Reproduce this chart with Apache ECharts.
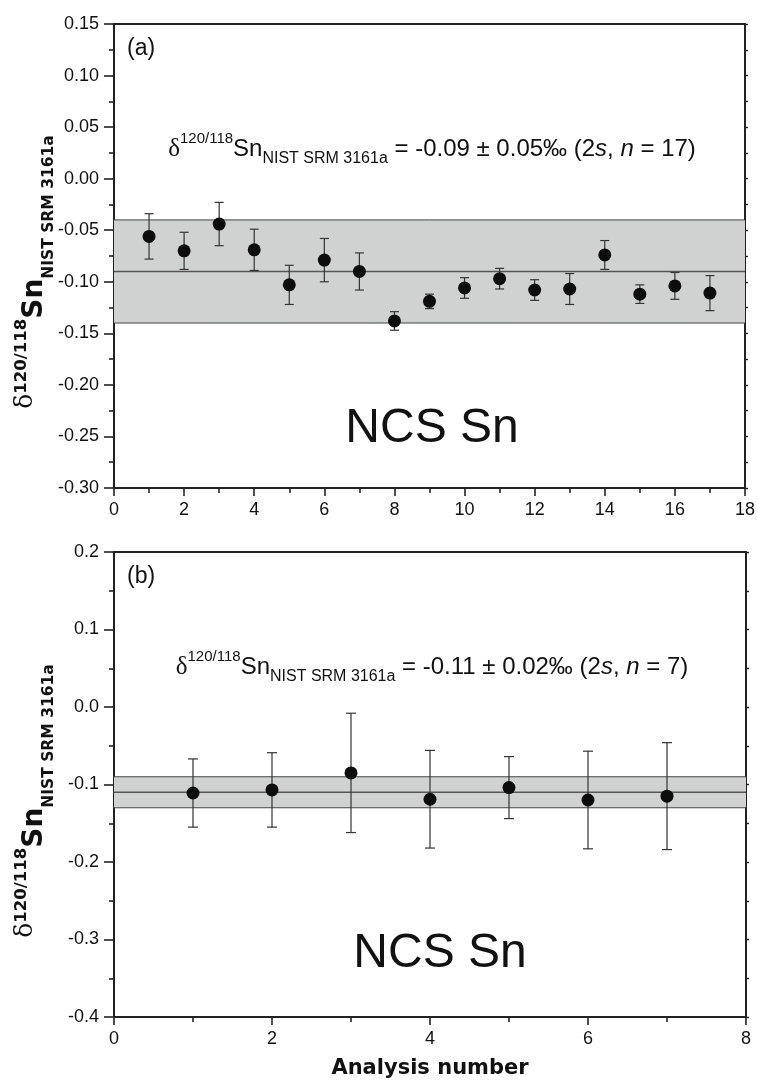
<!DOCTYPE html>
<html><head><meta charset="utf-8">
<script src="https://cdn.jsdelivr.net/npm/echarts@6/dist/echarts.min.js"></script>
<style>html,body{margin:0;padding:0;background:#fff}#c{width:758px;height:1084px}</style>
</head><body><div id="c"></div>
<script>
// ---- Panel (a) data ----
const runsA = [1,2,3,4,5,6,7,8,9,10,11,12,13,14,15,16,17];
const deltaA = [-0.056,-0.070,-0.044,-0.069,-0.103,-0.079,-0.090,-0.138,-0.119,-0.106,-0.097,-0.108,-0.107,-0.074,-0.112,-0.104,-0.111];
const err2sA = [0.022,0.018,0.021,0.020,0.019,0.021,0.018,0.009,0.007,0.010,0.010,0.010,0.015,0.014,0.009,0.013,0.017];
const meanA = [-0.09];
const bandHalfA = [0.05];
const yRangeA = [-0.30, 0.15];
const xRangeA = [0, 18];
// ---- Panel (b) data ----
const runsB = [1,2,3,4,5,6,7];
const deltaB = [-0.111,-0.107,-0.085,-0.119,-0.104,-0.120,-0.115];
const err2sB = [0.044,0.048,0.077,0.063,0.040,0.063,0.069];
const meanB = [-0.11];
const bandHalfB = [0.02];
const yRangeB = [-0.4, 0.2];
const xRangeB = [0, 8];

const FONT = 'Liberation Sans';
const BOLD = 'DejaVu Sans';
const ink = '#111';

const lineStyleAx = {color:'#222', width:2};
function xBottom(grid, range){
  return {gridIndex:grid, type:'value', min:range[0], max:range[1], interval:2, position:'bottom',
    axisLine:{show:true, onZero:false, lineStyle:lineStyleAx},
    axisTick:{show:true, length:8, lineStyle:{color:'#222', width:1.6}},
    minorTick:{show:true, splitNumber:2, length:5, lineStyle:{color:'#222', width:1.6}},
    axisLabel:{margin:13, fontSize:18, color:ink, fontFamily:FONT, showMinLabel:true, showMaxLabel:true},
    splitLine:{show:false}, minorSplitLine:{show:false}};
}
function xTop(grid, range){
  return {gridIndex:grid, type:'value', min:range[0], max:range[1], position:'top',
    axisLine:{show:true, onZero:false, lineStyle:lineStyleAx},
    axisTick:{show:false}, axisLabel:{show:false}, splitLine:{show:false}};
}
function yLeft(grid, range, step, digits){
  return {gridIndex:grid, type:'value', min:range[0], max:range[1], interval:step, position:'left',
    axisLine:{show:true, onZero:false, lineStyle:lineStyleAx},
    axisTick:{show:true, length:10, lineStyle:{color:'#222', width:1.6}},
    minorTick:{show:true, splitNumber:2, length:5, lineStyle:{color:'#222', width:1.6}},
    axisLabel:{margin:15, fontSize:18, color:ink, fontFamily:FONT, showMinLabel:true, showMaxLabel:true,
      formatter:v=>v.toFixed(digits)},
    splitLine:{show:false}, minorSplitLine:{show:false}};
}
function yRight(grid, range, step){
  return {gridIndex:grid, type:'value', min:range[0], max:range[1], interval:step, position:'right',
    axisLine:{show:true, onZero:false, lineStyle:lineStyleAx},
    axisTick:{show:true, length:3, lineStyle:{color:'#222', width:1.4}},
    axisLabel:{show:false}, splitLine:{show:false}};
}
function bandSeries(xi, yi, mean, half){
  return {type:'custom', xAxisIndex:xi, yAxisIndex:yi, z:1, silent:true,
    data: mean.map((m,i)=>[0, m-half[i], m, m+half[i]]),
    encode:{x:0, y:[1,2,3]},
    renderItem(params, api){
      const cs = params.coordSys;
      const yLo = api.coord([0, api.value(1)])[1];
      const yMid = api.coord([0, api.value(2)])[1];
      const yHi = api.coord([0, api.value(3)])[1];
      const x1 = cs.x, x2 = cs.x + cs.width;
      return {type:'group', children:[
        {type:'rect', shape:{x:x1, y:yHi, width:cs.width, height:yLo-yHi}, style:{fill:'#d0d2d1'}},
        {type:'line', shape:{x1:x1,y1:yHi,x2:x2,y2:yHi}, style:{stroke:'#444', lineWidth:1}},
        {type:'line', shape:{x1:x1,y1:yLo,x2:x2,y2:yLo}, style:{stroke:'#444', lineWidth:1}},
        {type:'line', shape:{x1:x1,y1:yMid,x2:x2,y2:yMid}, style:{stroke:'#555', lineWidth:1.4}}
      ]};
    }};
}
function errSeries(xi, yi, runs, vals, errs, cap){
  return {type:'custom', xAxisIndex:xi, yAxisIndex:yi, z:3, silent:true,
    data: runs.map((r,i)=>[r, vals[i]-errs[i], vals[i]+errs[i]]),
    encode:{x:0, y:[1,2]},
    renderItem(params, api){
      const x = api.value(0);
      const lo = api.coord([x, api.value(1)]);
      const hi = api.coord([x, api.value(2)]);
      const h = cap/2;
      const st = {stroke:'#333', lineWidth:1.2};
      return {type:'group', children:[
        {type:'line', shape:{x1:lo[0],y1:lo[1],x2:hi[0],y2:hi[1]}, style:st},
        {type:'line', shape:{x1:lo[0]-h,y1:lo[1],x2:lo[0]+h,y2:lo[1]}, style:st},
        {type:'line', shape:{x1:hi[0]-h,y1:hi[1],x2:hi[0]+h,y2:hi[1]}, style:st}
      ]};
    }};
}
function ptSeries(xi, yi, runs, vals){
  return {type:'scatter', xAxisIndex:xi, yAxisIndex:yi, z:4, symbol:'circle', symbolSize:13,
    itemStyle:{color:'#0d0d0d', opacity:1}, data: runs.map((r,i)=>[r, vals[i]])};
}

const formulaRich = {
  d:{fontFamily:'Liberation Serif', fontSize:25, lineHeight:36, fill:ink},
  sup:{fontFamily:FONT, fontSize:15, lineHeight:26, verticalAlign:'top', fill:ink},
  m:{fontFamily:FONT, fontSize:24, lineHeight:36, fill:ink},
  sub:{fontFamily:FONT, fontSize:16, lineHeight:13, verticalAlign:'bottom', fill:ink},
  i:{fontFamily:FONT, fontSize:24, fontStyle:'italic', lineHeight:36, fill:ink}
};
function formula(cx, top, mean, sd, n){
  return {type:'text', x:cx, y:top, z:10, silent:true, style:{
    text:'{d|δ}{sup|120/118}{m|Sn}{sub|NIST SRM 3161a}{m| = '+mean+' ± '+sd+'‰ (2}{i|s}{m|, }{i|n}{m| = '+n+')}',
    rich:formulaRich, textAlign:'center', textVerticalAlign:'top'}};
}
const ylabRich = {
  d:{fontFamily:'DejaVu Serif', fontSize:25, lineHeight:15, verticalAlign:'top', fill:ink},
  sup:{fontFamily:BOLD, fontWeight:'bold', fontSize:16.5, lineHeight:12, verticalAlign:'top', fill:ink},
  m:{fontFamily:BOLD, fontWeight:'bold', fontSize:28, lineHeight:44, fill:ink},
  sub:{fontFamily:BOLD, fontWeight:'bold', fontSize:15.5, lineHeight:24, verticalAlign:'bottom', fill:ink}
};
function ylab(cx, cy){
  return {type:'text', x:cx, y:cy, rotation:Math.PI/2, z:10, silent:true, style:{
    text:'{d|δ}{sup|120/118}{m|Sn}{sub|NIST SRM 3161a}', rich:ylabRich,
    textAlign:'center', textVerticalAlign:'middle'}};
}
function plain(x, y, txt, size, align, extra){
  return {type:'text', x:x, y:y, z:10, silent:true, style:Object.assign({
    text:txt, fontFamily:FONT, fontSize:size, fill:ink, textAlign:align, textVerticalAlign:'middle'}, extra||{})};
}

const chart = echarts.init(document.getElementById('c'), null, {renderer:'canvas'});
chart.setOption({
  animation:false,
  backgroundColor:'#fff',
  grid:[
    {left:114, right:12, top:24, height:464},
    {left:114, right:12, top:552, height:465}
  ],
  xAxis:[xBottom(0, xRangeA), xTop(0, xRangeA), xBottom(1, xRangeB), xTop(1, xRangeB)],
  yAxis:[yLeft(0, yRangeA, 0.05, 2), yRight(0, yRangeA, 0.025), yLeft(1, yRangeB, 0.1, 1), yRight(1, yRangeB, 0.05)],
  series:[
    bandSeries(0, 0, meanA, bandHalfA),
    errSeries(0, 0, runsA, deltaA, err2sA, 9),
    ptSeries(0, 0, runsA, deltaA),
    bandSeries(2, 2, meanB, bandHalfB),
    errSeries(2, 2, runsB, deltaB, err2sB, 10),
    ptSeries(2, 2, runsB, deltaB)
  ],
  graphic:[
    plain(127, 49, '(a)', 23, 'left'),
    plain(127, 577, '(b)', 23, 'left'),
    formula(432, 131, '-0.09', '0.05', 17),
    formula(432, 649, '-0.11', '0.02', 7),
    plain(432, 429, 'NCS Sn', 48, 'center'),
    plain(440, 954, 'NCS Sn', 48, 'center'),
    ylab(35, 272),
    ylab(35, 801),
    plain(430, 1069, 'Analysis number', 21, 'center', {fontFamily:BOLD, fontWeight:'bold'})
  ]
});
</script></body></html>
